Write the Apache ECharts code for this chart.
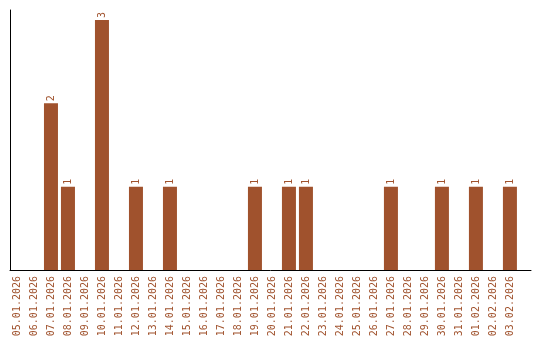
<!DOCTYPE html>
<html><head><meta charset="utf-8">
<script src="https://cdn.jsdelivr.net/npm/echarts@6/dist/echarts.min.js"></script>
<style>html,body{margin:0;padding:0;background:#fff}#c{width:540px;height:340px}</style>
</head><body><div id="c"></div>
<script>
const categories = ["05.01.2026","06.01.2026","07.01.2026","08.01.2026","09.01.2026","10.01.2026","11.01.2026","12.01.2026","13.01.2026","14.01.2026","15.01.2026","16.01.2026","17.01.2026","18.01.2026","19.01.2026","20.01.2026","21.01.2026","22.01.2026","23.01.2026","24.01.2026","25.01.2026","26.01.2026","27.01.2026","28.01.2026","29.01.2026","30.01.2026","31.01.2026","01.02.2026","02.02.2026","03.02.2026"];
const values = [0,0,2,1,0,3,0,1,0,1,0,0,0,0,1,0,1,1,0,0,0,0,1,0,0,1,0,1,0,1];
const color = '#a0522d';
const font = 'DejaVu Sans Mono';
const chart = echarts.init(document.getElementById('c'), null, {renderer:'canvas'});
chart.setOption({
  animation:false,
  grid:{left:10, top:10, width:521, height:260},
  xAxis:{type:'value', min:-0.41, max:30.24,
    axisLine:{show:true, onZero:false, lineStyle:{color:'#000', width:1}},
    axisTick:{show:false}, splitLine:{show:false},
    axisLabel:{customValues:categories.map((c,i)=>i), rotate:90, margin:6, color:color, fontFamily:font, fontSize:10,
      formatter:(v)=>categories[Math.round(v)]}},
  yAxis:{type:'value', min:0, max:3.12,
    axisLine:{show:true, onZero:false, lineStyle:{color:'#000', width:1}},
    axisTick:{show:false}, axisLabel:{show:false}, splitLine:{show:false}},
  series:[{type:'bar', barWidth:14,
    data:values.map((v,i)=>[i,v]).filter(d=>d[1]>0),
    itemStyle:{color:color},
    label:{show:true, position:'top', rotate:90, align:'left', verticalAlign:'middle', distance:2,
      color:color, fontFamily:font, fontSize:10, formatter:(p)=>String(p.value[1])}}]
});
</script></body></html>
